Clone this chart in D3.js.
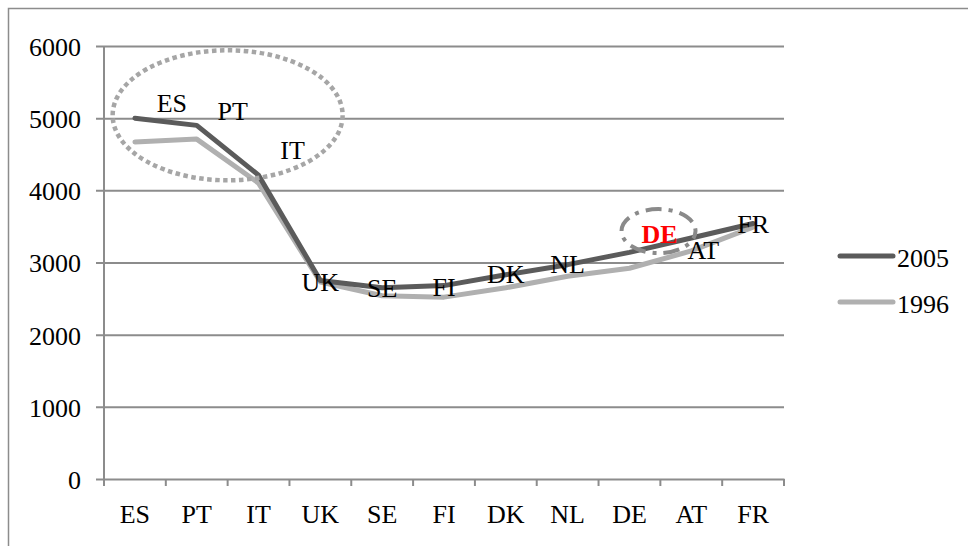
<!DOCTYPE html>
<html>
<head>
<meta charset="utf-8">
<script src="https://cdn.jsdelivr.net/npm/d3@7"></script>
<style>
  html, body { margin: 0; padding: 0; background: #fff; }
  svg { display: block; }
  svg text { font-family: "Liberation Serif", "Times New Roman", serif !important; }
</style>
</head>
<body>
<svg id="chart" width="968" height="546"></svg>
<script>
// Countries along the horizontal axis
const categories = ["ES", "PT", "IT", "UK", "SE", "FI", "DK", "NL", "DE", "AT", "FR"];
// Series values
const values2005 = [5000, 4900, 4210, 2750, 2650, 2680, 2830, 2970, 3140, 3340, 3540];
const values1996 = [4670, 4710, 4100, 2730, 2540, 2520, 2650, 2810, 2920, 3160, 3490];
const seriesNames = ["2005", "1996"];
const yTicks = [0, 1000, 2000, 3000, 4000, 5000, 6000];
// Point-label offsets (dx, baseline dy) from each 2005 point
const labelOffsets = [[37, -6], [36, -5], [34, -16], [0, 10], [0, 9], [0, 10], [0, 8], [0, 8], [30, -9], [12, 21], [0, 9]];
const highlighted = "DE";

const colors = { "2005": "#5b5b5b", "1996": "#b0b0b0" };
const gridColor = "#8c8c8c";
const fontSize = 26;
const serif = "'Liberation Serif', 'Times New Roman', serif";

const svg = d3.select("#chart");

// outer frame (runs past the right and bottom edges)
svg.append("rect")
  .attr("x", 8.5).attr("y", 8.5)
  .attr("width", 1000).attr("height", 600)
  .attr("fill", "none").attr("stroke", gridColor).attr("stroke-width", 1.5);

const plotLeft = 104, plotRight = 784, plotTop = 46, plotBottom = 479;

const x = d3.scaleBand().domain(categories).range([plotLeft, plotRight]).paddingInner(0).paddingOuter(0);
const y = d3.scaleLinear().domain([0, 6000]).range([plotBottom, plotTop]);
const bw = x.bandwidth();
const cx = c => x(c) + bw / 2;

// horizontal gridlines with left tick marks
const yAxis = svg.append("g")
  .attr("transform", `translate(${plotLeft},0)`)
  .call(d3.axisLeft(y).tickValues(yTicks).tickSize(8).tickFormat(d3.format("d")).tickPadding(15));
yAxis.attr("font-family", null).attr("font-size", null);
yAxis.select(".domain").remove();
yAxis.selectAll(".tick line").attr("stroke", gridColor).attr("stroke-width", 2)
  .attr("x1", -8).attr("x2", d => d === 0 ? 0 : plotRight - plotLeft);
yAxis.selectAll(".tick text")
  .attr("fill", "#000")
  .style("font-size", fontSize + "px")
  .style("font-family", serif)
  .attr("dy", "0.36em");

// vertical axis line
svg.append("line")
  .attr("x1", plotLeft).attr("x2", plotLeft).attr("y1", plotTop).attr("y2", plotBottom)
  .attr("stroke", gridColor).attr("stroke-width", 2);

// category axis
const xAxis = svg.append("g")
  .attr("transform", `translate(0,${plotBottom})`)
  .call(d3.axisBottom(x).tickSize(0).tickPadding(26));
xAxis.attr("font-family", null).attr("font-size", null);
xAxis.select(".domain").attr("stroke", gridColor).attr("stroke-width", 2);
xAxis.selectAll(".tick text")
  .attr("fill", "#000")
  .style("font-size", fontSize + "px")
  .style("font-family", serif);

// tick marks at band boundaries
const boundaries = categories.map(c => x(c)).concat([x(categories[categories.length - 1]) + bw]);
svg.append("g").selectAll("line").data(boundaries).join("line")
  .attr("x1", d => d).attr("x2", d => d)
  .attr("y1", plotBottom).attr("y2", plotBottom + 7)
  .attr("stroke", gridColor).attr("stroke-width", 2);

// series lines
const line = d3.line().x((d, i) => cx(categories[i])).y(d => y(d));
[["1996", values1996], ["2005", values2005]].forEach(([name, vals]) => {
  svg.append("path")
    .datum(vals)
    .attr("d", line)
    .attr("fill", "none")
    .attr("stroke", colors[name])
    .attr("stroke-width", 5)
    .attr("stroke-linejoin", "round")
    .attr("stroke-linecap", "round");
});

// dotted ellipse around the southern group
svg.append("ellipse")
  .attr("cx", cx("PT") + bw * 0.5)
  .attr("cy", y(5040))
  .attr("rx", bw * 1.86).attr("ry", 65)
  .attr("fill", "none").attr("stroke", "#a6a6a6")
  .attr("stroke-width", 4.5).attr("stroke-dasharray", "4.5 3.5");

// dash-dot ellipse around DE
svg.append("ellipse")
  .attr("cx", cx("DE") + bw * 0.47)
  .attr("cy", y(3435))
  .attr("rx", 37).attr("ry", 22)
  .attr("fill", "none").attr("stroke", "#8a8a8a")
  .attr("stroke-width", 4).attr("stroke-dasharray", "16 7 4 7")
  .attr("stroke-dashoffset", 8);

// country labels on the 2005 points
svg.append("g").selectAll("text").data(categories).join("text")
  .attr("x", (c, i) => cx(c) + labelOffsets[i][0])
  .attr("y", (c, i) => y(values2005[i]) + labelOffsets[i][1])
  .attr("text-anchor", "middle")
  .style("font-size", fontSize + "px")
  .style("font-family", serif)
  .attr("fill", c => c === highlighted ? "#ff0000" : "#000")
  .attr("font-weight", c => c === highlighted ? "bold" : "normal")
  .text(c => c);

// legend
const legend = svg.append("g");
seriesNames.forEach((name, i) => {
  const ly = 256 + i * 46;
  legend.append("line")
    .attr("x1", 840).attr("x2", 893).attr("y1", ly).attr("y2", ly)
    .attr("stroke", colors[name]).attr("stroke-width", 5).attr("stroke-linecap", "round");
  legend.append("text")
    .attr("x", 897).attr("y", ly + 10.5)
    .style("font-size", fontSize + "px")
    .style("font-family", serif)
    .attr("fill", "#000")
    .text(name);
});
</script>
</body>
</html>
